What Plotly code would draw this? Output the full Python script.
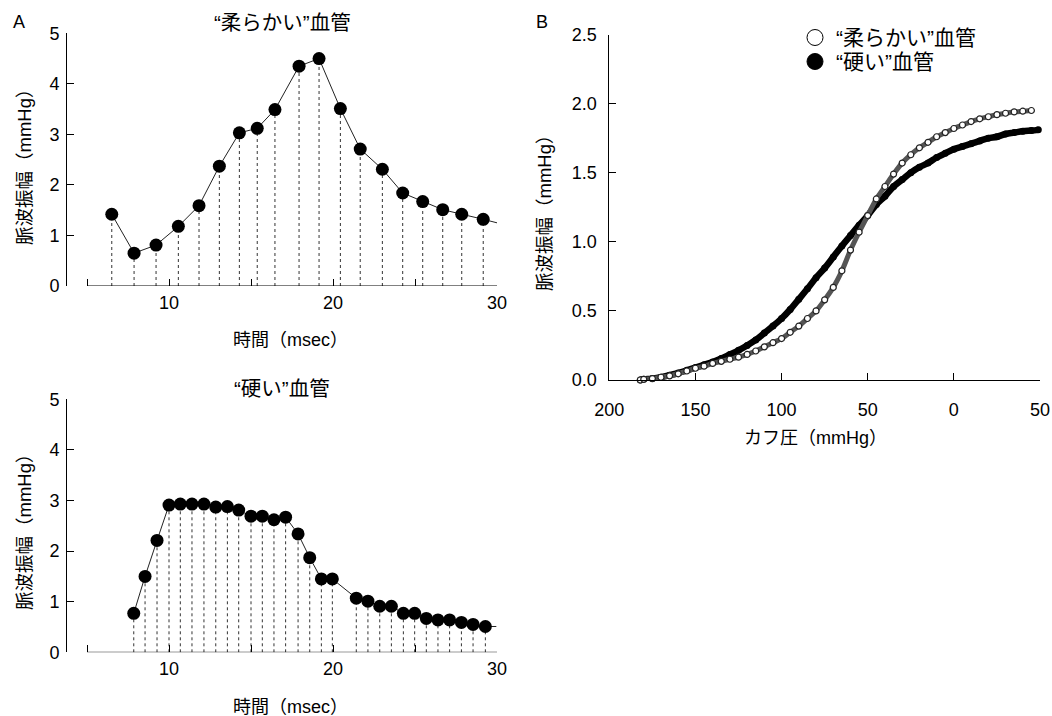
import plotly.graph_objects as go

# ---------------- data ----------------
# Panel A top: "柔らかい"血管
soft_t = [6.51, 7.87, 9.21, 10.57, 11.83, 13.07, 14.29, 15.38, 16.46, 17.93,
          19.15, 20.45, 21.66, 23.01, 24.25, 25.47, 26.69, 27.85, 29.16]
soft_amp = [1.42, 0.65, 0.81, 1.18, 1.59, 2.37, 3.03, 3.12, 3.49, 4.35,
            4.50, 3.51, 2.71, 2.31, 1.84, 1.67, 1.51, 1.42, 1.32]
soft_tail_t = [29.16, 30.0]
soft_tail_amp = [1.32, 1.25]

# Panel A bottom: "硬い"血管
hard_t = [7.85, 8.54, 9.27, 10.0, 10.69, 11.40, 12.13, 12.85, 13.56, 14.25,
          15.00, 15.69, 16.40, 17.11, 17.87, 18.58, 19.29, 19.96, 21.42, 22.13,
          22.85, 23.56, 24.29, 24.98, 25.69, 26.40, 27.11, 27.83, 28.54, 29.29]
hard_amp = [0.77, 1.50, 2.21, 2.91, 2.93, 2.93, 2.93, 2.87, 2.88, 2.81,
            2.69, 2.69, 2.62, 2.67, 2.34, 1.87, 1.45, 1.45, 1.07, 1.01,
            0.91, 0.91, 0.77, 0.77, 0.67, 0.64, 0.64, 0.59, 0.55, 0.51]
hard_tail_t = [29.29, 29.96]
hard_tail_amp = [0.51, 0.51]

# Panel B: cuff pressure vs pulse amplitude
cuff_soft = [182, 180, 175, 170, 165, 160, 155, 150, 145, 140, 135, 130, 125, 120,
             115, 110, 105, 100, 95, 90, 85, 80, 75, 70, 65, 60, 55, 50, 45, 40,
             35, 30, 25, 20, 15, 10, 5, 0, -5, -10, -15, -20, -25, -30, -35, -40, -45]
amp_soft = [0.00, 0.005, 0.01, 0.02, 0.03, 0.045, 0.065, 0.085, 0.10, 0.12, 0.135,
            0.15, 0.165, 0.185, 0.21, 0.24, 0.27, 0.30, 0.345, 0.39, 0.445, 0.50,
            0.58, 0.67, 0.79, 0.94, 1.07, 1.19, 1.31, 1.40, 1.49, 1.57, 1.63,
            1.68, 1.72, 1.76, 1.79, 1.82, 1.845, 1.87, 1.89, 1.905, 1.92, 1.93,
            1.94, 1.945, 1.95]
cuff_hard = [182, 180, 175, 170, 165, 160, 155, 150, 145, 140, 135, 130, 125, 120,
             115, 110, 105, 100, 95, 90, 85, 80, 75, 70, 65, 60, 55, 50, 45, 40,
             35, 30, 25, 20, 15, 10, 5, 0, -5, -10, -15, -20, -25, -30, -35, -40,
             -45, -49]
amp_hard = [0.00, 0.005, 0.01, 0.02, 0.035, 0.05, 0.07, 0.09, 0.11, 0.13, 0.155,
            0.185, 0.215, 0.25, 0.29, 0.34, 0.39, 0.445, 0.51, 0.585, 0.66, 0.74,
            0.81, 0.89, 0.97, 1.045, 1.12, 1.19, 1.27, 1.33, 1.40, 1.45, 1.50,
            1.54, 1.57, 1.61, 1.64, 1.67, 1.69, 1.71, 1.73, 1.75, 1.76, 1.78,
            1.79, 1.80, 1.805, 1.81]

a_xticks = [5, 10, 15, 20, 25, 30]
a_xtext = ["", "10", "", "20", "", "30"]
a_yticks = [0, 1, 2, 3, 4, 5]
b_xticks = [200, 150, 100, 50, 0, -50]
b_xtext = ["200", "150", "100", "50", "0", "50"]
b_yticks = [0, 0.5, 1.0, 1.5, 2.0, 2.5]
b_ytext = ["0.0", "0.5", "1.0", "1.5", "2.0", "2.5"]

TITLE_SOFT = "“柔らかい”血管"
TITLE_HARD = "“硬い”血管"
YLAB = "脈波振幅（mmHg）"
XLAB_A = "時間（msec）"
XLAB_B = "カフ圧（mmHg）"

# ---------------- figure ----------------
W, H = 1052, 716
NUM_FONT = "Liberation Sans, Arial, sans-serif"
JP_FONT = "Liberation Sans, Noto Sans CJK JP, sans-serif"


def px_x(p):
    return p / W


def px_y(p):
    return 1 - p / H


fig = go.Figure()


def droplines(xs, ys):
    dx, dy = [], []
    for x, y in zip(xs, ys):
        dx += [x, x, None]
        dy += [0, y, None]
    return dx, dy


for xs, ys, tx, ty, xa, ya in [
    (soft_t, soft_amp, soft_tail_t, soft_tail_amp, "x", "y"),
    (hard_t, hard_amp, hard_tail_t, hard_tail_amp, "x2", "y2"),
]:
    dx, dy = droplines(xs, ys)
    fig.add_trace(go.Scatter(x=dx, y=dy, mode="lines", xaxis=xa, yaxis=ya,
                             line=dict(color="#333", width=1, dash="3px,3px"),
                             hoverinfo="skip", showlegend=False))
    fig.add_trace(go.Scatter(x=tx, y=ty, mode="lines", xaxis=xa, yaxis=ya,
                             line=dict(color="#222", width=1), showlegend=False))
    fig.add_trace(go.Scatter(x=xs, y=ys, mode="lines+markers", xaxis=xa, yaxis=ya,
                             line=dict(color="#222", width=1),
                             marker=dict(size=13, color="black"),
                             cliponaxis=False, showlegend=False))

# panel B: "硬い" (filled) drawn first, "柔らかい" (open) on top
fig.add_trace(go.Scatter(x=cuff_hard, y=amp_hard, mode="lines+markers",
                         xaxis="x3", yaxis="y3",
                         line=dict(color="black", width=6.5, shape="spline"),
                         marker=dict(size=7, color="black"),
                         cliponaxis=False, showlegend=False))
fig.add_trace(go.Scatter(x=cuff_soft, y=amp_soft, mode="lines",
                         xaxis="x3", yaxis="y3",
                         line=dict(color="#555", width=5, shape="spline"),
                         cliponaxis=False, showlegend=False, hoverinfo="skip"))
fig.add_trace(go.Scatter(x=cuff_soft, y=amp_soft, mode="markers",
                         xaxis="x3", yaxis="y3",
                         marker=dict(size=6, color="white",
                                     line=dict(color="#222", width=1.2)),
                         cliponaxis=False, showlegend=False))

# axes
x_dom_a = [px_x(67), px_x(497)]
axis_common = dict(showgrid=False, zeroline=False, ticks="inside", ticklen=7,
                   tickwidth=1, tickcolor="black", automargin=False,
                   tickfont=dict(family=NUM_FONT, size=18, color="black"))

fig.update_layout(
    width=W, height=H,
    margin=dict(l=0, r=0, t=0, b=0, pad=0, autoexpand=False),
    plot_bgcolor="white", paper_bgcolor="white", showlegend=False,
    xaxis=dict(domain=x_dom_a, range=[3.78, 30], anchor="y", showline=False,
               tickvals=a_xticks, ticktext=a_xtext, ticklabelstandoff=4,
               **axis_common),
    yaxis=dict(domain=[px_y(286), px_y(33.3)], range=[0, 5], anchor="x",
               showline=True, linecolor="black", linewidth=1,
               tickvals=a_yticks, ticklabelstandoff=3, **axis_common),
    xaxis2=dict(domain=x_dom_a, range=[3.78, 30], anchor="y2", showline=False,
                tickvals=a_xticks, ticktext=a_xtext, ticklabelstandoff=4,
                **axis_common),
    yaxis2=dict(domain=[px_y(652.3), px_y(399.3)], range=[0, 5], anchor="x2",
                showline=True, linecolor="black", linewidth=1,
                tickvals=a_yticks, ticklabelstandoff=3, **axis_common),
    xaxis3=dict(domain=[px_x(609.3), px_x(1040)], range=[200, -50], anchor="y3",
                showline=True, linecolor="black", linewidth=1,
                tickvals=b_xticks, ticktext=b_xtext, ticklabelstandoff=13,
                **axis_common),
    yaxis3=dict(domain=[px_y(380), px_y(34.5)], range=[0, 2.5], anchor="x3",
                showline=True, linecolor="black", linewidth=1,
                tickvals=b_yticks, ticktext=b_ytext, ticklabelstandoff=8,
                **axis_common),
)

# x-axis baselines for panel A (start at 5)
for xr, yr in [("x", "y"), ("x2", "y2")]:
    fig.add_shape(type="line", xref=xr, yref=yr, x0=a_xticks[0], x1=a_xticks[-1],
                  y0=0, y1=0, line=dict(color="black", width=1))


def ann(text, x, y, size=18, angle=0, family=JP_FONT):
    fig.add_annotation(text=text, x=px_x(x), y=px_y(y), xref="paper", yref="paper",
                       showarrow=False, xanchor="center", yanchor="middle",
                       textangle=angle, font=dict(family=family, size=size, color="black"))


ann("A", 19, 21.5, size=18, family=NUM_FONT)
ann("B", 542, 22, size=18, family=NUM_FONT)
ann(TITLE_SOFT, 282, 22.5, size=20.5)
ann(TITLE_HARD, 282, 388, size=20.5)
ann(YLAB, 24, 163, size=18.5, angle=-90)
ann(YLAB, 24, 528, size=18.5, angle=-90)
ann(YLAB, 545, 209, size=18.5, angle=-90)
ann(XLAB_A, 290, 340, size=18)
ann(XLAB_A, 290, 707, size=18)
ann(XLAB_B, 815, 438, size=18)

# legend for panel B
fig.add_shape(type="circle", xref="paper", yref="paper",
              x0=px_x(807), x1=px_x(823), y0=px_y(45.5), y1=px_y(29.5),
              line=dict(color="black", width=1), fillcolor="white")
fig.add_shape(type="circle", xref="paper", yref="paper",
              x0=px_x(807), x1=px_x(823), y0=px_y(69.5), y1=px_y(53.5),
              line=dict(color="black", width=1), fillcolor="black")
for text, y in [(TITLE_SOFT, 37.5), (TITLE_HARD, 61.5)]:
    fig.add_annotation(text=text, x=px_x(834), y=px_y(y), xref="paper", yref="paper",
                       showarrow=False, xanchor="left", yanchor="middle",
                       font=dict(family=JP_FONT, size=21, color="black"))

fig.write_html("out.html", config={"displayModeBar": False},
               post_script="document.body.style.margin='0px';")
